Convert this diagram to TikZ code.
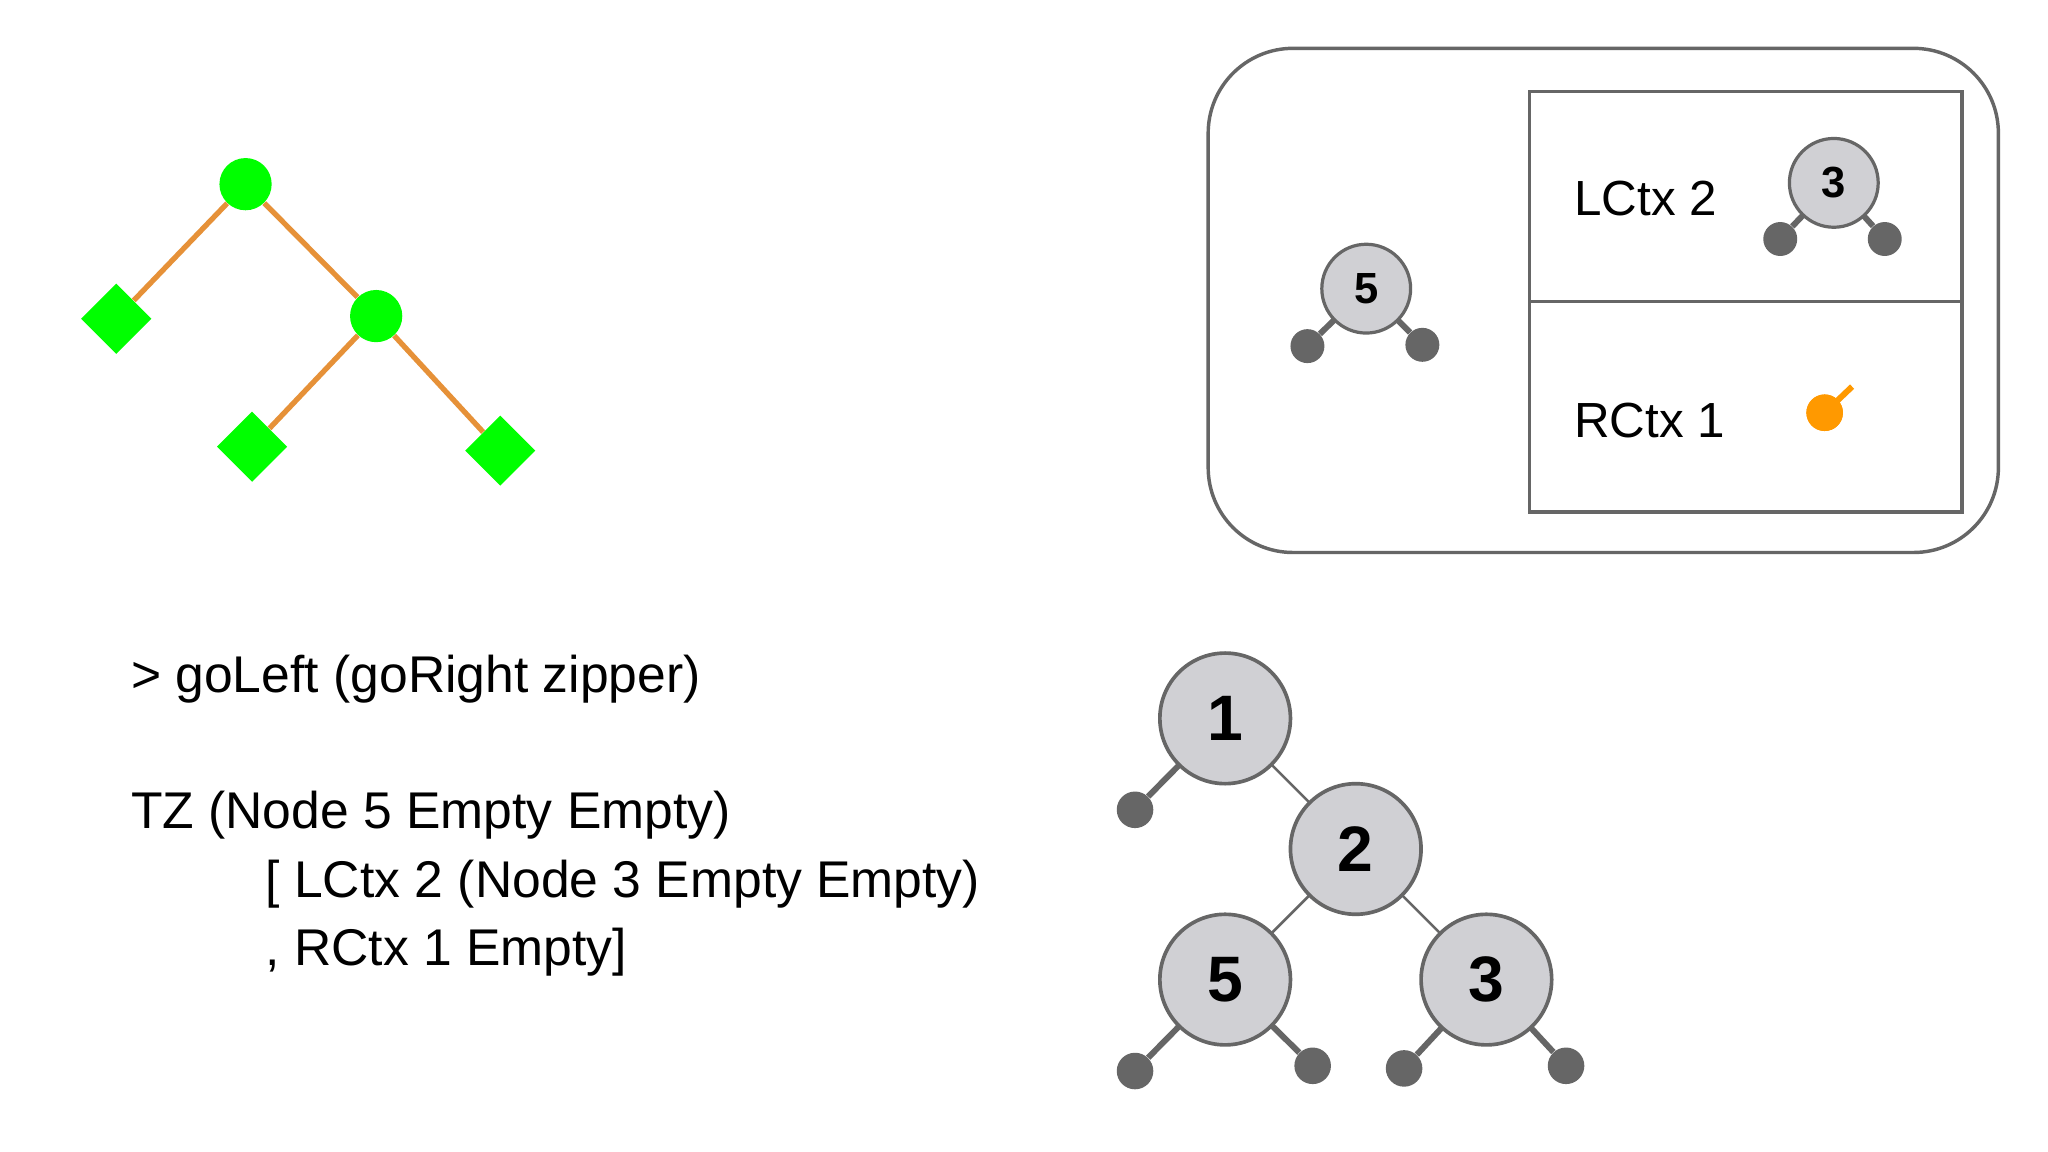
\documentclass[tikz,border=0pt]{standalone}
\usepackage{fontspec}
\setmainfont{Liberation Sans}
\usetikzlibrary{shapes.geometric}
\begin{document}
\begin{tikzpicture}[x=0.02cm,y=-0.02cm]
\definecolor{leafgreen}{HTML}{00FF00}
\definecolor{edgeorange}{HTML}{E69138}
\definecolor{linegray}{HTML}{666666}
\definecolor{nodefill}{HTML}{D0D0D4}
\definecolor{ctxorange}{HTML}{FF9900}
\tikzset{
  gnode/.style={circle,fill=leafgreen,minimum size=0.8cm,inner sep=0},
  gleaf/.style={diamond,fill=leafgreen,minimum size=1.08cm,inner sep=0},
  gedge/.style={edgeorange,line width=2.3pt},
  bignode/.style={circle,fill=nodefill,draw=linegray,line width=1.6pt,minimum size=2cm,inner sep=0,font=\fontsize{28}{30}\selectfont\bfseries},
  smallnode/.style={circle,fill=nodefill,draw=linegray,line width=1.4pt,minimum size=1.36cm,inner sep=0,font=\fontsize{19}{21}\selectfont\bfseries},
  bigleaf/.style={circle,fill=linegray,minimum size=0.56cm,inner sep=0},
  smallleaf/.style={circle,fill=linegray,minimum size=0.52cm,inner sep=0},
  stub/.style={linegray,line width=2.6pt},
  thin/.style={linegray,line width=1.1pt},
  box/.style={draw=linegray,line width=1.5pt},
  code/.style={anchor=west,inner sep=0,font=\fontsize{22.5}{24}\selectfont},
  ctx/.style={anchor=west,inner sep=0,font=\fontsize{21.5}{23}\selectfont}
}
\useasboundingbox[fill=white] (0,0) rectangle (1568,882);
% green tree
\node[gnode] (r) at (188,141) {};
\node[gnode] (m) at (288,242) {};
\node[gleaf] (l1) at (89,244) {};
\node[gleaf] (l2) at (193,342) {};
\node[gleaf] (l3) at (383,345) {};
\begin{scope}[on background layer/.style={}]
\draw[gedge] (r) -- (l1);
\draw[gedge] (r) -- (m);
\draw[gedge] (m) -- (l2);
\draw[gedge] (m) -- (l3);
\end{scope}
% context box
\draw[box,rounded corners=1.3cm] (925,37) rectangle (1530,423);
\draw[box] (1171,70) rectangle (1502,392);
\draw[box] (1171,231) -- (1502,231);
\node[ctx] (lc) at (1205,152) {LCtx 2};
\node[ctx] (rc) at (1205,322) {RCtx 1};
% focus node 5
\coordinate (f5) at (1046,221);
\node[smallleaf] (f5a) at (1001,265) {};
\node[smallleaf] (f5b) at (1089,264) {};
\draw[stub] (f5) -- (f5a);
\draw[stub] (f5) -- (f5b);
\node[smallnode] (n5s) at (f5) {5};
% context node 3
\coordinate (c3) at (1404,140);
\node[smallleaf] (c3a) at (1363,183) {};
\node[smallleaf] (c3b) at (1443,183) {};
\draw[stub] (c3) -- (c3a);
\draw[stub] (c3) -- (c3b);
\node[smallnode] (n3s) at (c3) {3};
% orange hole
\node[circle,fill=ctxorange,minimum size=0.56cm,inner sep=0] (hole) at (1397,316) {};
\coordinate (holeend) at (1418,296);
\draw[ctxorange,line width=2.6pt] (hole.center) -- (holeend);
\fill[ctxorange] (hole) circle (14);
% code text
\node[code] (t1) at (100,520) {> goLeft (goRight zipper)};
\node[code] (t2) at (100,624) {TZ (Node 5 Empty Empty)};
\node[code] (t3) at (203,677) {[ LCtx 2 (Node 3 Empty Empty)};
\node[code] (t4) at (203,729) {, RCtx 1 Empty]};
% big tree
\coordinate (p1) at (938,550);
\coordinate (p2) at (1038,650);
\coordinate (p5) at (938,750);
\coordinate (p3) at (1138,750);
\node[bigleaf] (b1) at (869,620) {};
\node[bigleaf] (b5a) at (869,820) {};
\node[bigleaf] (b5b) at (1005,816) {};
\node[bigleaf] (b3a) at (1075,818) {};
\node[bigleaf] (b3b) at (1199,816) {};
\draw[thin] (p1) -- (p2);
\draw[thin] (p2) -- (p5);
\draw[thin] (p2) -- (p3);
\draw[stub] (p1) -- (b1);
\draw[stub] (p5) -- (b5a);
\draw[stub] (p5) -- (b5b);
\draw[stub] (p3) -- (b3a);
\draw[stub] (p3) -- (b3b);
\node[bignode] (n1) at (p1) {1};
\node[bignode] (n2) at (p2) {2};
\node[bignode] (n5) at (p5) {5};
\node[bignode] (n3) at (p3) {3};
\end{tikzpicture}
\end{document}
